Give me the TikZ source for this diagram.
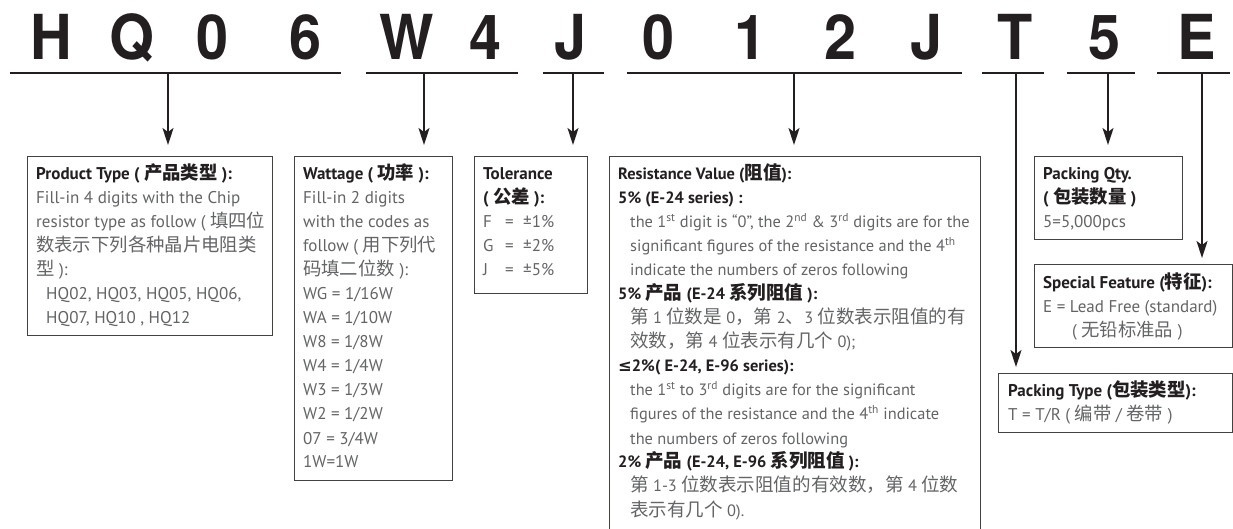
\documentclass[tikz,border=0pt]{standalone}
\usepackage{fontspec}
\usepackage{graphicx}
\setmainfont{PT Sans}
\newfontfamily\cjk{Noto Sans CJK SC}[Scale=1.08]
\newfontfamily\cjkr{Noto Sans CJK SC}[Scale=1.13]
\newfontfamily\bigf{TeX Gyre Heros}
\newfontfamily\symf{DejaVu Sans}
\usetikzlibrary{arrows.meta}
\definecolor{ink}{HTML}{231F20}
\definecolor{bodyc}{HTML}{636466}
\newcommand\C[1]{{\cjk #1}}
\newcommand\R[1]{{\cjkr #1}}
\newcommand\hd[1]{{\color{ink}\bfseries #1}}
\newcommand\ind{\hspace*{12pt}}
\newcommand\bigch[1]{\scalebox{0.93}[1]{#1}}
\begin{document}
\begin{tikzpicture}[x=1pt,y=-1pt,
  bigl/.style={anchor=base, inner sep=0, text=ink, font=\bigf\bfseries\fontsize{62}{62}\selectfont},
  uline/.style={line width=2pt, draw=ink},
  arr/.style={line width=1.6pt, draw=ink, -{Stealth[length=17pt,width=11pt,inset=4pt]}},
  box/.style={draw=ink!85, line width=1.2pt, anchor=north west, inner sep=0},
  txt/.style={anchor=base west, inner sep=0, text=bodyc, font=\fontsize{17}{24}\selectfont},
  txts/.style={txt, font=\fontsize{16.4}{24}\selectfont}]
\useasboundingbox (0,0) rectangle (1233,529);
\clip (0,0) rectangle (1233,529);

% big code letters
\node[bigl] (L1) at (51,60) {\bigch{H}};
\node[bigl] (L2) at (132,60) {\bigch{Q}};
\node[bigl] (L3) at (213,60) {\bigch{0}};
\node[bigl] (L4) at (306,60) {\bigch{6}};
\node[bigl] (L5) at (407,60) {\bigch{W}};
\node[bigl] (L6) at (486,60) {\bigch{4}};
\node[bigl] (L7) at (571,60) {\bigch{J}};
\node[bigl] (L8) at (659,60) {\bigch{0}};
\node[bigl] (L9) at (751,60) {\bigch{1}};
\node[bigl] (L10) at (841,60) {\bigch{2}};
\node[bigl] (L11) at (927,60) {\bigch{J}};
\node[bigl] (L12) at (1015,60) {\bigch{T}};
\node[bigl] (L13) at (1105,60) {\bigch{5}};
\node[bigl] (L14) at (1197,60) {\bigch{E}};

% underlines
\coordinate (u1a) at (10,73);   \coordinate (u1b) at (341,73);
\coordinate (u2a) at (366,73);  \coordinate (u2b) at (518,73);
\coordinate (u3a) at (543,73);  \coordinate (u3b) at (604,73);
\coordinate (u4a) at (627,73);  \coordinate (u4b) at (962,73);
\coordinate (u5a) at (982,73);  \coordinate (u5b) at (1044,73);
\coordinate (u6a) at (1067,73); \coordinate (u6b) at (1135,73);
\coordinate (u7a) at (1157,73); \coordinate (u7b) at (1230,73);
\foreach \i in {1,...,7} {\draw[uline] (u\i a) -- (u\i b);}

% boxes
\node[box, minimum width=245pt, minimum height=179pt] (bP) at (27,156) {};
\node[box, minimum width=158pt, minimum height=324pt] (bW) at (294,156) {};
\node[box, minimum width=113pt, minimum height=137pt] (bT) at (474,156) {};
\node[box, minimum width=371pt, minimum height=420pt] (bR) at (609,156) {};
\node[box, minimum width=148pt, minimum height=83pt] (bQ) at (1034,156) {};
\node[box, minimum width=198pt, minimum height=83pt] (bS) at (1034,264) {};
\node[box, minimum width=234pt, minimum height=59pt] (bK) at (998,373) {};

% arrows
\coordinate (aP) at (168,73);
\coordinate (aW) at (424,73);
\coordinate (aT) at (573,73);
\coordinate (aR) at (794,73);
\coordinate (aK) at (1016,73);
\coordinate (aQ) at (1108,73);
\coordinate (aS) at (1202,73);
\draw[arr, shorten >=11pt] (aP) -- (aP |- bP.north);
\draw[arr, shorten >=11pt] (aW) -- (aW |- bW.north);
\draw[arr, shorten >=11pt] (aT) -- (aT |- bT.north);
\draw[arr, shorten >=11pt] (aR) -- (aR |- bR.north);
\draw[arr, shorten >=11pt] (aQ) -- (aQ |- bQ.north);
\draw[arr, shorten >=6pt] (aS) -- (aS |- bS.north);
\draw[arr, shorten >=6pt] (aK) -- (aK |- bK.north);

% texts
\node[txt] (tP) at (36,180) {\begin{tabular}[t]{@{}l@{}}
\hd{Product Type ( \C{产品类型} ):}\\
Fill-in 4 digits with the Chip\\
resistor type as follow ( \C{填四位}\\
\C{数表示下列各种晶片电阻类}\\
\C{型} ):\\
\hspace*{10pt}HQ02, HQ03, HQ05, HQ06,\\
\hspace*{10pt}HQ07, HQ10 , HQ12
\end{tabular}};

\node[txt] (tW) at (303,180) {\begin{tabular}[t]{@{}l@{}}
\hd{Wattage ( \C{功率} ):}\\
Fill-in 2 digits\\
with the codes as\\
follow ( \C{用下列代}\\
\C{码填二位数} ):\\
WG = 1/16W\\
WA = 1/10W\\
W8 = 1/8W\\
W4 = 1/4W\\
W3 = 1/3W\\
W2 = 1/2W\\
07 = 3/4W\\
1W=1W
\end{tabular}};

\node[txt] (tT) at (483,180) {\begin{tabular}[t]{@{}l@{}}
\hd{Tolerance}\\
\hd{( \C{公差} ):}\\
\makebox[22pt][l]{F}\makebox[18pt][l]{=}±1\%\\
\makebox[22pt][l]{G}\makebox[18pt][l]{=}±2\%\\
\makebox[22pt][l]{J}\makebox[18pt][l]{=}±5\%
\end{tabular}};

\node[txts] (tR) at (618,180) {\begin{tabular}[t]{@{}l@{}}
\hd{Resistance Value (\R{阻值}):}\\
\hd{5\% (E-24 series) :}\\
\ind the 1\textsuperscript{st} digit is “0”, the 2\textsuperscript{nd} \& 3\textsuperscript{rd} digits are for the\\
\ind significant figures of the resistance and the 4\textsuperscript{th}\\
\ind indicate the numbers of zeros following\\
\hd{5\% \R{产品} (E-24 \R{系列阻值} ):}\\
\ind\R{第} 1 \R{位数是} 0\R{，第} 2\R{、}3 \R{位数表示阻值的有}\\
\ind\R{效数，第} 4 \R{位表示有几个} 0);\\
\hd{{\symf ≤}2\%( E-24, E-96 series):}\\
\ind the 1\textsuperscript{st} to 3\textsuperscript{rd} digits are for the significant\\
\ind figures of the resistance and the 4\textsuperscript{th} indicate\\
\ind the numbers of zeros following\\
\hd{2\% \R{产品} (E-24, E-96 \R{系列阻值} ):}\\
\ind\R{第} 1-3 \R{位数表示阻值的有效数，第} 4 \R{位数}\\
\ind\R{表示有几个} 0).
\end{tabular}};

\node[txt] (tQ) at (1043,180) {\begin{tabular}[t]{@{}l@{}}
\hd{Packing Qty.}\\
\hd{( \C{包装数量} )}\\
5=5,000pcs
\end{tabular}};

\node[txt] (tS) at (1043,288) {\begin{tabular}[t]{@{}l@{}}
\hd{Special Feature (\C{特征}):}\\
E = Lead Free (standard)\\
\hspace*{29pt}( \C{无铅标准品} )
\end{tabular}};

\node[txt] (tK) at (1008,396) {\begin{tabular}[t]{@{}l@{}}
\hd{Packing Type (\C{包装类型}):}\\
T = T/R ( \C{编带} / \C{卷带} )
\end{tabular}};
\end{tikzpicture}
\end{document}
